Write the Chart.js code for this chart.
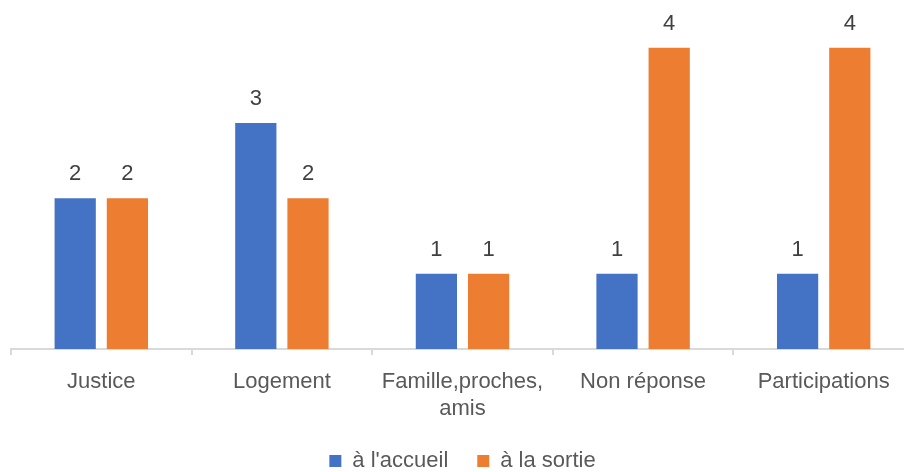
<!DOCTYPE html>
<html>
<head>
<meta charset="utf-8">
<script src="https://cdn.jsdelivr.net/npm/chart.js@4"></script>
<style>
  html, body { margin: 0; padding: 0; background: #fff; overflow: hidden; }
  #wrap { width: 914px; height: 472px; }
</style>
</head>
<body>
<div id="wrap"><canvas id="reasonsChart"></canvas></div>
<script>
const categories = ['Justice', 'Logement', ['Famille,proches,', 'amis'], 'Non réponse', 'Participations'];
const accueilValues = [2, 3, 1, 1, 1];
const sortieValues = [2, 2, 1, 4, 4];
const seriesNames = ["à l'accueil", 'à la sortie'];

const FONT = "'Liberation Sans', Arial, sans-serif";

// simple value labels above each bar
const barValueLabels = {
    id: 'barValueLabels',
    afterDatasetsDraw(chart) {
        const ctx = chart.ctx;
        ctx.save();
        ctx.font = '22px ' + FONT;
        ctx.fillStyle = '#404040';
        ctx.textAlign = 'center';
        ctx.textBaseline = 'bottom';
        chart.data.datasets.forEach((ds, i) => {
            chart.getDatasetMeta(i).data.forEach((bar, j) => {
                ctx.fillText(ds.data[j], bar.x, bar.y - 13);
            });
        });
        ctx.restore();
    }
};

// keep the legend low, close to the bottom edge
const legendHeight = {
    id: 'legendHeight',
    beforeInit(chart) {
        const origFit = chart.legend.fit;
        chart.legend.fit = function () {
            origFit.call(this);
            this.height = 51;
        };
    }
};

new Chart(document.getElementById('reasonsChart'), {
    type: 'bar',
    data: {
        labels: categories,
        datasets: [{
            label: seriesNames[0],
            data: accueilValues,
            backgroundColor: '#4472C4',
            barPercentage: 0.79,
            categoryPercentage: 0.578
        }, {
            label: seriesNames[1],
            data: sortieValues,
            backgroundColor: '#ED7D31',
            barPercentage: 0.79,
            categoryPercentage: 0.578
        }]
    },
    options: {
        responsive: true,
        maintainAspectRatio: false,
        animation: false,
        layout: { padding: { left: 11, right: 0, top: 10, bottom: 0 } },
        scales: {
            x: {
                afterFit(scale) { scale.height = 72; },
                grid: {
                    offset: true,
                    drawOnChartArea: false,
                    drawTicks: true,
                    tickLength: 6,
                    color: '#d9d9d9',
                    lineWidth: 2
                },
                border: { color: '#d9d9d9', width: 2 },
                ticks: {
                    color: '#595959',
                    font: { family: FONT, size: 22, lineHeight: 1.25 },
                    padding: 13,
                    maxRotation: 0,
                    autoSkip: false
                }
            },
            y: {
                display: false,
                min: 0,
                max: 4.5
            }
        },
        plugins: {
            legend: {
                position: 'bottom',
                labels: {
                    color: '#595959',
                    font: { family: FONT, size: 22 },
                    boxWidth: 12,
                    boxHeight: 12,
                    padding: 29
                }
            },
            tooltip: { enabled: false }
        }
    },
    plugins: [barValueLabels, legendHeight]
});
</script>
</body>
</html>
